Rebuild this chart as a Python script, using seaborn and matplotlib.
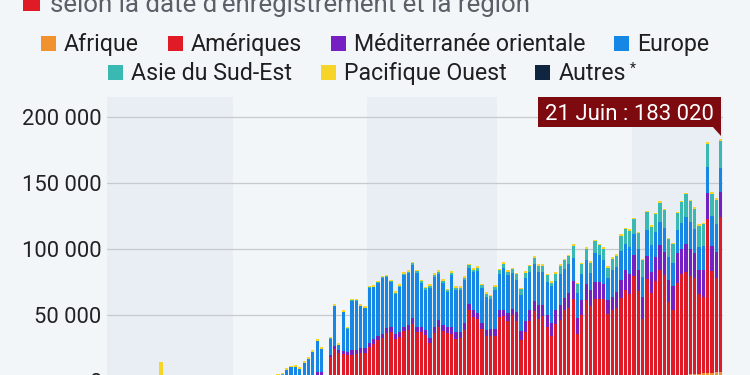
import matplotlib
matplotlib.use("Agg")
import matplotlib.pyplot as plt
import numpy as np
import pandas as pd
import seaborn as sns
from matplotlib.patches import Rectangle, Polygon
from matplotlib.transforms import IdentityTransform
from matplotlib.ticker import FuncFormatter

# ---------------- data (daily new cases by WHO region, 1 Feb - 21 Jun 2020) ----------------
jours = pd.date_range("2020-02-01", "2020-06-21").strftime("%Y-%m-%d").tolist()

afrique = [
    0, 0, 0, 0, 0, 0, 0, 0, 0, 0, 0, 0, 0, 0, 0, 0, 0, 0, 0, 0, 0, 0, 0, 0, 0, 0, 0, 1, 1,
    1, 2, 3, 3, 5, 5, 8, 10, 10, 10, 10, 10, 20, 20, 30, 30, 40, 50, 60, 70, 80, 20, 200, 300, 300, 300, 300, 400, 400, 400, 500,
    500, 500, 500, 500, 600, 600, 600, 600, 700, 700, 700, 800, 800, 800, 900, 900, 1000, 1000, 1000, 1100, 1100, 1100, 1200, 1200, 1300, 1300, 1300, 1400, 1400, 1500,
    1500, 1600, 1600, 1700, 1800, 1800, 1900, 2000, 2000, 2100, 2100, 2200, 2200, 2300, 2400, 2500, 2500, 2600, 2600, 2700, 2800, 2900, 3000, 3000, 3100, 3200, 3300, 3400, 3500, 3600, 3700,
    3800, 3900, 4000, 4200, 4300, 4400, 4500, 4600, 4700, 4800, 4900, 5000, 5200, 5400, 5600, 5800, 6000, 6300, 6600, 7000, 7400,
]
ameriques = [
    1, 1, 0, 1, 0, 1, 0, 0, 1, 0, 0, 1, 0, 1, 0, 0, 0, 0, 0, 0, 1, 2, 0, 0, 1, 3, 5, 10, 15,
    20, 30, 40, 60, 80, 100, 120, 150, 150, 150, 150, 200, 300, 400, 500, 600, 900, 1400, 2700, 4800, 5000, 300, 18000, 24400, 21200, 20700, 19900, 19300, 20100, 21300, 21200,
    25500, 28000, 30600, 32600, 36000, 36800, 31700, 33000, 37200, 38400, 43000, 36600, 36600, 34000, 28100, 36000, 40200, 37100, 35600, 35000, 31200, 31700, 37900, 52600, 47400, 46200, 38100, 32900, 32900, 32800,
    47200, 47700, 43900, 48300, 43700, 29300, 35500, 43500, 51400, 45400, 47600, 39200, 32300, 41400, 44300, 51300, 53300, 59400, 33000, 47300, 59100, 53900, 59100, 59100, 59000, 48100, 50500, 52300, 59600, 65800, 62700,
    76200, 64300, 43500, 73600, 62900, 71600, 79600, 75700, 55400, 49000, 69600, 76100, 77600, 74400, 72900, 60600, 57900, 116200, 77000, 71500, 116600,
]
mediterranee = [
    0, 0, 0, 0, 0, 0, 0, 1, 0, 3, 0, 0, 1, 0, 0, 0, 0, 0, 2, 5, 20, 40, 60, 70, 100, 150, 200, 250, 300,
    400, 500, 600, 700, 800, 900, 1000, 1100, 1100, 1100, 1100, 1000, 1200, 1300, 1300, 1300, 1500, 1600, 1800, 2200, 2000, 400, 2100, 1800, 2000, 2000, 2000, 3800, 3500, 3500, 3500,
    3300, 3800, 3200, 3000, 3800, 3800, 3300, 3800, 3300, 3300, 4300, 3800, 3800, 3800, 4100, 4300, 5000, 4300, 4600, 5100, 5100, 4600, 5100, 4500, 5100, 4300, 4800, 4800, 5600, 5600,
    5100, 5000, 6500, 5000, 7000, 6800, 8000, 8300, 7200, 10100, 8400, 9100, 9700, 10600, 10900, 9600, 11100, 14000, 12600, 11900, 12100, 12600, 13100, 13100, 11400, 10600, 10100, 12000, 13400, 14700, 15200,
    16000, 16400, 16400, 16900, 15600, 18200, 18900, 17700, 16900, 18200, 22500, 19400, 21500, 20700, 18700, 18200, 20700, 19700, 18700, 19500, 19400,
]
europe = [
    0, 1, 1, 2, 3, 4, 2, 1, 2, 1, 0, 1, 0, 2, 1, 1, 0, 0, 0, 3, 20, 60, 80, 120, 100, 180, 250, 300, 350,
    550, 600, 900, 1200, 1600, 1800, 2300, 2300, 2600, 2600, 3500, 4000, 7200, 8800, 9200, 7600, 11600, 14100, 17700, 23300, 17400, 1200, 12100, 30300, 4200, 29500, 17700, 37700, 37200, 31700, 30200,
    41500, 38900, 39800, 41800, 38500, 33900, 30700, 34000, 39300, 39600, 40200, 41100, 33400, 30600, 37900, 38100, 35000, 32300, 26200, 39000, 31600, 31800, 32400, 27600, 28700, 32000, 26500, 25000, 22300, 29200,
    27200, 31800, 28500, 26800, 24200, 27500, 32600, 29000, 28000, 24900, 24400, 25000, 27600, 21600, 23500, 21900, 21700, 17700, 18700, 19200, 18200, 12700, 22000, 20200, 18700, 16600, 20700, 18900, 22400, 20200, 19700,
    15500, 15900, 15100, 19700, 20200, 18900, 17700, 18400, 17200, 17600, 17400, 19400, 19700, 20200, 18400, 17200, 17700, 19700, 22700, 20900, 18200,
]
asie_sud_est = [
    1, 1, 1, 0, 0, 0, 0, 0, 1, 0, 0, 1, 0, 0, 0, 0, 0, 0, 0, 0, 0, 0, 0, 0, 0, 0, 0, 0, 1,
    0, 2, 3, 20, 10, 10, 15, 15, 15, 15, 20, 30, 30, 30, 30, 20, 60, 50, 50, 130, 120, 10, 200, 300, 200, 200, 200, 300, 300, 300, 300,
    400, 500, 800, 800, 900, 900, 900, 1000, 1000, 1100, 1100, 1000, 1100, 1100, 1300, 1400, 1500, 1500, 1500, 1800, 1800, 1800, 2000, 2000, 2000, 2200, 2200, 2300, 2500, 2600,
    3300, 3000, 2500, 3000, 4600, 4300, 4300, 4300, 5000, 5100, 5100, 5100, 3000, 5600, 6300, 6400, 6100, 8800, 6600, 7500, 8300, 7500, 8800, 7600, 8300, 7600, 8300, 8100, 11400, 10800, 12800,
    11000, 11500, 12500, 13400, 14000, 13300, 14500, 13200, 13200, 14200, 12700, 15500, 17700, 15900, 15200, 15600, 16600, 17700, 17000, 18700, 20000,
]
pacifique_ouest = [
    2100, 2600, 2800, 3200, 3900, 3700, 3200, 3400, 2700, 3000, 2500, 2000, 14500, 4000, 2600, 2100, 2000, 1900, 1800, 400, 900, 650, 420, 600, 900, 800, 900, 900, 1000,
    1100, 900, 800, 700, 700, 600, 500, 500, 500, 600, 1000, 1050, 1050, 1050, 1040, 1050, 1000, 1000, 1190, 1300, 1200, 500, 1000, 1200, 1100, 1100, 1100, 1100, 1100, 1100, 1100,
    1000, 1000, 1100, 1100, 1000, 1000, 1000, 1100, 1100, 1200, 1300, 1300, 1300, 1200, 1200, 1400, 1400, 1300, 1300, 1300, 1200, 1200, 1200, 1200, 1100, 1100, 1100, 1100, 900, 1000,
    1000, 1300, 1100, 1100, 1000, 1000, 1000, 1300, 1100, 1000, 1000, 1000, 1000, 1000, 1200, 1200, 1200, 1300, 1000, 1000, 1300, 1300, 1300, 1300, 1300, 1300, 1300, 1500, 1300, 1300, 1300,
    1200, 1100, 1400, 1000, 1200, 1200, 1200, 1200, 1200, 1200, 1200, 1000, 1000, 1000, 1300, 1300, 1300, 1200, 1200, 1000, 1420,
]
autres = [
    0, 0, 0, 0, 10, 41, 3, 6, 60, 0, 39, 44, 67, 70, 99, 88, 79, 13, 0, 0, 0, 0, 0, 0, 0, 0, 0, 0, 0,
    0, 0, 0, 0, 0, 0, 0, 0, 0, 0, 0, 0, 0, 0, 0, 0, 0, 0, 0, 0, 0, 0, 0, 0, 0, 0, 0, 0, 0, 0, 0,
    0, 0, 0, 0, 0, 0, 0, 0, 0, 0, 0, 0, 0, 0, 0, 0, 0, 0, 0, 0, 0, 0, 0, 0, 0, 0, 0, 0, 0, 0,
    0, 0, 0, 0, 0, 0, 0, 0, 0, 0, 0, 0, 0, 0, 0, 0, 0, 0, 0, 0, 0, 0, 0, 0, 0, 0, 0, 0, 0, 0, 0,
    0, 0, 0, 0, 0, 0, 0, 0, 0, 0, 0, 0, 0, 0, 0, 0, 0, 0, 0, 0, 0,
]

regions = ["Afrique", "Amériques", "Méditerranée orientale", "Europe",
           "Asie du Sud-Est", "Pacifique Ouest", "Autres"]
series = [afrique, ameriques, mediterranee, europe, asie_sud_est, pacifique_ouest, autres]
colors = ["#f2922f", "#e01a26", "#7620c4", "#1687e5", "#3ab8b2", "#f7d528", "#0f2540"]

yticks = [0, 50000, 100000, 150000, 200000]
annot_label = "21 Juin"
title_text = "selon la date d'enregistrement et la région"

for s in series:
    assert len(s) == len(jours)

# ---------------- style ----------------
BG = "#f3f6f9"
BAND = "#e8eef4"
W, H = 750, 375
sns.set_style("white", {"axes.facecolor": BG, "figure.facecolor": BG})
plt.rcParams["font.family"] = ["Roboto", "DejaVu Sans"]

fig = plt.figure(figsize=(W / 100, H / 100), dpi=100)
fig.patch.set_facecolor(BG)
renderer = fig.canvas.get_renderer()


def text_width(s, size, **kw):
    t = fig.text(0, 0, s, fontsize=size, **kw)
    w = t.get_window_extent(renderer).width
    t.remove()
    return w


def fit(s, target_px, **kw):
    return 20.0 * target_px / text_width(s, 20.0, **kw)


# axes placement (pixel geometry of reference)
x_left, x_w = 106.7, 616.2
y_zero_from_top, ax_h = 381.4, 284.2
ax = fig.add_axes([x_left / W, (H - y_zero_from_top) / H, x_w / W, ax_h / H])
ax.set_facecolor(BG)

df = pd.DataFrame({"jour": jours})
for name, vals in zip(regions, series):
    df[name] = vals
cum = df[regions].cumsum(axis=1)

for k in reversed(range(len(regions))):
    sns.barplot(x=df["jour"], y=cum[regions[k]], order=jours, color=colors[k],
                saturation=1, width=0.75, errorbar=None, linewidth=0,
                ax=ax, zorder=2)

n = len(jours)
ax.set_xlim(-0.5, n - 0.5)
ax.set_ylim(0, 215000)

# alternating month bands
months = pd.to_datetime(pd.Series(jours)).dt.month.values
starts = [0] + [i for i in range(1, n) if months[i] != months[i - 1]] + [n]
for j in range(len(starts) - 1):
    if j % 2 == 0:
        ax.axvspan(starts[j] - 0.5, starts[j + 1] - 0.5, color=BAND, zorder=0.1, lw=0)

ax.set_axisbelow(True)
ax.yaxis.grid(True, color="#c6cad0", linewidth=0.9, zorder=0.5)
ax.xaxis.grid(False)
ax.set_xticks([])
ax.set_yticks(yticks)
ax.yaxis.set_major_formatter(FuncFormatter(lambda v, p: f"{int(v):,}".replace(",", " ")))
tick_size = fit("200 000", 79)
ax.tick_params(axis="y", length=0, pad=3.6, labelsize=tick_size, labelcolor="#222222")
ax.set_xlabel("")
ax.set_ylabel("")
for sp in ax.spines.values():
    sp.set_visible(False)

IT = IdentityTransform()

# ---------------- title fragment ----------------
fig.add_artist(Rectangle((22.7, H - 10.7), 17.3, 17.3, transform=IT,
                         facecolor="#e01a26", edgecolor="none"))
title_size = fit("selon la date d'enregistreme", 322.7)
fig.text(50, H - 11.7, title_text, transform=IT, fontsize=title_size,
         color="#5b6068", va="baseline", ha="left")

# ---------------- legend (two centred rows) ----------------
leg_size = 1.02 * 20.0 * (74 + 109.3 + 155.6) / (
    text_width("Afrique", 20) + text_width("Amériques", 20) + text_width("Asie du Sud-Est", 20))
SQ, GAP_IN, GAP_OUT = 15, 8.3, 28.5
star_size = leg_size * 0.6


def item_width(nm):
    w = SQ + GAP_IN + text_width(nm, leg_size)
    if nm == "Autres":
        w += 4 + text_width("*", star_size)
    return w


rows = [(regions[:4], colors[:4], 375.0, 50.7), (regions[4:], colors[4:], 372.0, 80.0)]
for names, cols, cx, base in rows:
    total = sum(item_width(nm) for nm in names) + GAP_OUT * (len(names) - 1)
    x = cx - total / 2
    for nm, c in zip(names, cols):
        fig.add_artist(Rectangle((x, H - base), SQ, SQ, transform=IT,
                                 facecolor=c, edgecolor="none"))
        tx = x + SQ + GAP_IN
        fig.text(tx, H - base, nm, transform=IT, fontsize=leg_size,
                 color="#1f1f1f", va="baseline", ha="left")
        w = text_width(nm, leg_size)
        if nm == "Autres":
            fig.text(tx + w + 4, H - base + 7, "*", transform=IT,
                     fontsize=star_size, color="#1f1f1f", va="baseline", ha="left")
        x += item_width(nm) + GAP_OUT

# ---------------- annotation on last bar ----------------
last_total = int(cum[regions[-1]].iloc[-1])
label = f"{annot_label} : {last_total:,}".replace(",", " ")
px, py = ax.transData.transform((n - 1, last_total))
right = px + 0.3
box_bottom = py + 12.7
box_h = 29.5
box_w = 183
fig.add_artist(Rectangle((right - box_w, box_bottom), box_w, box_h, transform=IT,
                         facecolor="#7d0a0f", edgecolor="none", zorder=5))
fig.add_artist(Polygon([(right - 9, box_bottom + 0.5), (right, box_bottom + 0.5), (right, py + 3)],
                       closed=True, transform=IT, facecolor="#7d0a0f", edgecolor="none", zorder=5))
ann_size = fit(label, 168)
fig.text(right - box_w / 2, box_bottom + box_h / 2, label, transform=IT,
         fontsize=ann_size, color="white", ha="center", va="center_baseline", zorder=6)

fig.savefig("out.png", dpi=100, facecolor=BG)
